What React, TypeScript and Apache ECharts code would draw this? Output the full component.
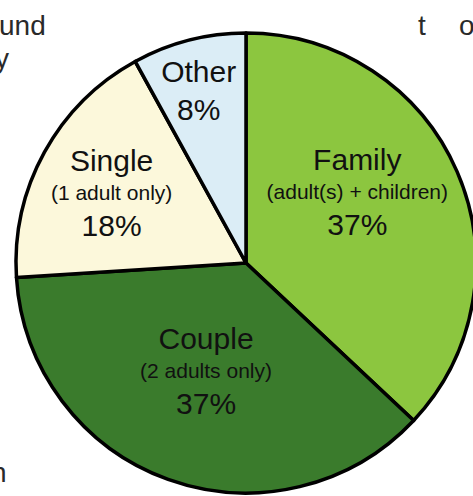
import React, { useEffect, useRef } from "react";
import * as echarts from "echarts";

const categories = ["Family", "Couple", "Single", "Other"];
const subtitles = ["(adult(s) + children)", "(2 adults only)", "(1 adult only)", ""];
const shares = [37, 37, 18, 8];
const colors = ["#8cc63f", "#3a7b2c", "#fcf8db", "#dbedf6"];
const labelOffsets: [number, number][] = [
  [3, -24],
  [0, -3],
  [-31, -13],
  [-18, -56],
];

export default function App() {
  const ref = useRef<HTMLDivElement>(null);
  useEffect(() => {
    if (!ref.current) return;
    const chart = echarts.init(ref.current, null, { renderer: "svg" });
    const font = "'Liberation Sans', Arial, sans-serif";
    const bgText = (text: string, x: number, y: number) => ({
      type: "text",
      x,
      y,
      style: {
        text,
        fontSize: 28,
        fontFamily: font,
        fill: "#2a2a2a",
        textAlign: "left",
        verticalAlign: "middle",
      },
    });
    chart.setOption({
      animation: false,
      backgroundColor: "#ffffff",
      graphic: [
        bgText("und", -1, 25),
        bgText("y", -5, 58),
        bgText("t", 418, 25),
        bgText("o", 459, 25),
        bgText("n", -9, 472),
      ],
      series: [
        {
          type: "pie",
          center: [246, 263],
          radius: 230,
          startAngle: 90,
          clockwise: true,
          silent: true,
          labelLine: { show: false },
          itemStyle: { borderColor: "#000000", borderWidth: 3.5 },
          data: categories.map((name, i) => ({
            name,
            value: shares[i],
            itemStyle: { color: colors[i] },
            label: {
              show: true,
              position: "inside",
              offset: labelOffsets[i],
              fontFamily: font,
              formatter: subtitles[i]
                ? `{t|${name}}\n{s|${subtitles[i]}}\n{p|${shares[i]}%}`
                : `{t|${name}}\n{p|${shares[i]}%}`,
              rich: {
                t: { fontSize: 30, lineHeight: 34, color: "#111", fontFamily: font, align: "center" },
                s: { fontSize: 21, lineHeight: 30, color: "#111", fontFamily: font, align: "center" },
                p: {
                  fontSize: 30,
                  lineHeight: subtitles[i] ? 36 : 42,
                  color: "#111",
                  fontFamily: font,
                  align: "center",
                },
              },
            },
          })),
        },
      ],
    });
    return () => chart.dispose();
  }, []);
  return (
    <div
      ref={ref}
      style={{ position: "absolute", left: 0, top: 0, width: 473, height: 496 }}
    />
  );
}
